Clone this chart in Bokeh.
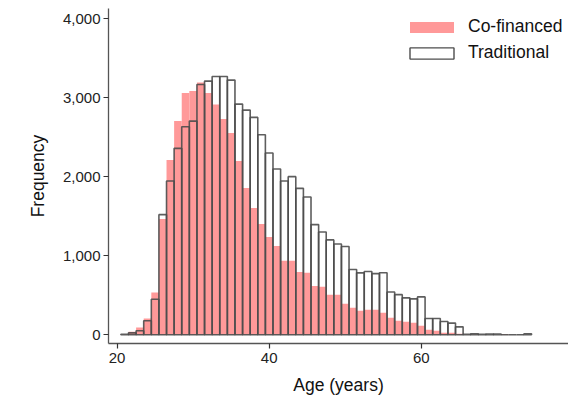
from bokeh.plotting import figure
from bokeh.models import Range1d, FixedTicker, NumeralTickFormatter, Legend, LegendItem
from bokeh.embed import file_html
from bokeh.resources import INLINE

ages = list(range(21, 75))
traditional = [8, 25, 51, 177, 451, 1521, 1947, 2360, 2634, 2705,
               3169, 3211, 3270, 3270, 3224, 2920, 2844, 2752, 2533, 2301,
               2099, 1947, 2002, 1854, 1745, 1395, 1302, 1201, 1150, 1117,
               826, 784, 801, 775, 786, 542, 508, 468, 455, 480,
               206, 206, 168, 148, 101, 5, 12, 8, 10, 10,
               0, 0, 0, 12]
cofinanced = [3, 38, 92, 206, 535, 1467, 2212, 2705, 3059, 3085,
              3194, 3059, 2916, 2731, 2554, 2200, 1858, 1606, 1403, 1239,
              1125, 936, 936, 796, 784, 619, 607, 506, 506, 392,
              341, 303, 316, 316, 278, 215, 177, 164, 152, 114,
              63, 51, 25, 25, 13, 3, 3, 2, 2, 2,
              8, 0, 0, 0]
x_ticks = [20, 40, 60, 80]
y_ticks = [0, 1000, 2000, 3000, 4000]

FONT = "Liberation Sans"

p = figure(width=568, height=400, output_backend="svg", toolbar_location=None,
           x_range=Range1d(18.87, 79.36), y_range=Range1d(-110, 4130),
           min_border_left=108, min_border_right=0, min_border_top=8, min_border_bottom=57)
p.outline_line_color = None
p.xgrid.visible = False
p.ygrid.visible = False
p.background_fill_color = "white"

co = p.vbar(x=ages, top=cofinanced, bottom=0, width=1.0, fill_color="#FF9999",
            line_color=None)
tr = p.vbar(x=ages, top=traditional, bottom=0, width=1.0, fill_color=None,
            line_color="#4d4d4d", line_width=1.6, line_alpha=0.9)

for ax in (p.xaxis[0], p.yaxis[0]):
    ax.axis_line_color = "#555555"
    ax.axis_line_width = 1.3
    ax.major_tick_line_color = "#333333"
    ax.major_tick_line_width = 1.2
    ax.major_tick_out = 5
    ax.major_tick_in = 0
    ax.minor_tick_line_color = None
    ax.major_label_text_font = FONT
    ax.major_label_text_font_size = "15px"
    ax.major_label_text_color = "#222222"
    ax.axis_label_text_font = FONT
    ax.axis_label_text_font_size = "17.5px"
    ax.axis_label_text_font_style = "normal"
    ax.axis_label_text_color = "#111111"

p.xaxis.ticker = FixedTicker(ticks=x_ticks)
p.yaxis.ticker = FixedTicker(ticks=y_ticks)
p.yaxis.formatter = NumeralTickFormatter(format="0,0")
p.yaxis.major_label_orientation = "horizontal"
p.xaxis.axis_label = "Age (years)"
p.yaxis.axis_label = "Frequency"
p.xaxis.major_label_standoff = 4
p.yaxis.major_label_standoff = 3
p.xaxis.axis_label_standoff = 9
p.yaxis.axis_label_standoff = 12

leg_tr = p.rect(x=[0], y=[0], width=0, height=0, fill_color="white",
                line_color="#4d4d4d", line_width=1.4, visible=False)
legend = Legend(items=[LegendItem(label="Co-financed", renderers=[co]),
                       LegendItem(label="Traditional", renderers=[leg_tr])],
                location=(296, 280), border_line_color=None,
                background_fill_alpha=0, margin=0, padding=0,
                glyph_width=55, glyph_height=14, label_height=20, spacing=5,
                label_standoff=9, label_text_font=FONT,
                label_text_font_size="17.5px", label_text_color="#111111")
p.add_layout(legend)

open("out.html", "w").write(file_html(p, INLINE))
